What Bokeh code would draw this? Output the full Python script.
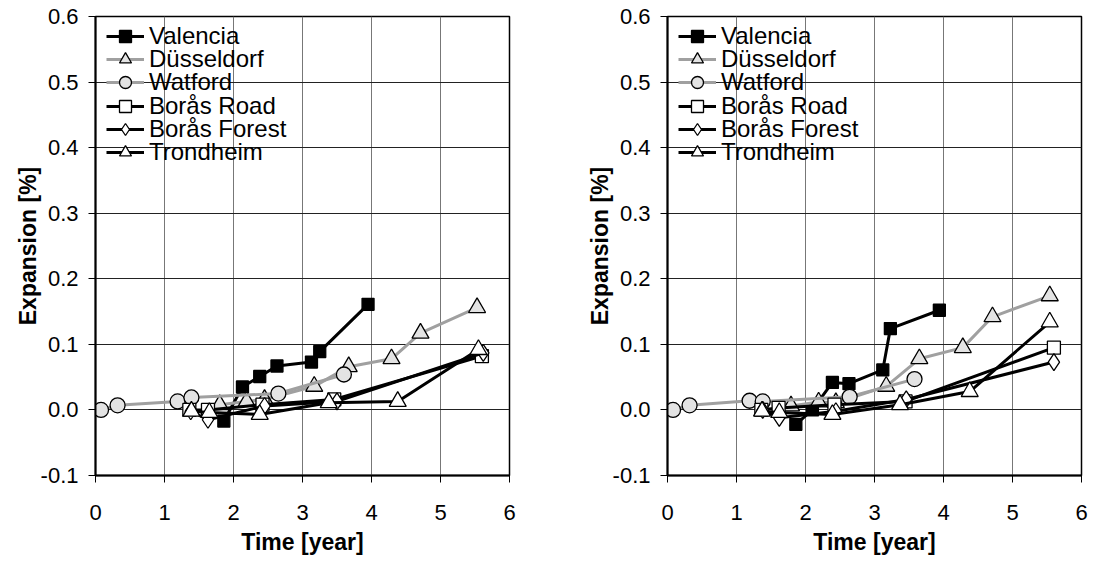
from bokeh.plotting import figure
from bokeh.layouts import row
from bokeh.models import FixedTicker, NumeralTickFormatter, Range1d, Legend, LegendItem
from bokeh.embed import file_html
from bokeh.resources import INLINE

# ---------------- data ----------------
series_names = ["Valencia", "Düsseldorf", "Watford", "Borås Road", "Borås Forest", "Trondheim"]

# left panel
L_valencia_t = [1.86, 2.13, 2.38, 2.63, 3.13, 3.25, 3.95]
L_valencia_e = [-0.017, 0.035, 0.051, 0.067, 0.073, 0.089, 0.161]
L_dusseldorf_t = [1.80, 2.19, 2.45, 3.17, 3.67, 4.29, 4.71, 5.53]
L_dusseldorf_e = [0.008, 0.013, 0.016, 0.036, 0.066, 0.078, 0.117, 0.156]
L_watford_t = [0.08, 0.32, 1.19, 1.39, 2.65, 3.60]
L_watford_e = [0.000, 0.007, 0.013, 0.019, 0.025, 0.054]
L_borasroad_t = [1.36, 1.63, 2.42, 3.46, 5.60]
L_borasroad_e = [0.000, 0.000, 0.008, 0.016, 0.082]
L_borasforest_t = [1.38, 1.63, 2.45, 3.50, 5.62]
L_borasforest_e = [-0.002, -0.015, 0.006, 0.013, 0.087]
L_trondheim_t = [1.39, 1.65, 2.38, 3.38, 4.38, 5.55]
L_trondheim_e = [-0.002, -0.004, -0.007, 0.011, 0.013, 0.092]

# right panel
R_valencia_t = [1.86, 2.10, 2.39, 2.63, 3.12, 3.23, 3.94]
R_valencia_e = [-0.022, 0.000, 0.042, 0.040, 0.061, 0.124, 0.152]
R_dusseldorf_t = [1.79, 2.19, 2.44, 3.17, 3.65, 4.28, 4.71, 5.54]
R_dusseldorf_e = [0.006, 0.012, 0.011, 0.036, 0.078, 0.095, 0.142, 0.174]
R_watford_t = [0.08, 0.32, 1.19, 1.38, 2.64, 3.58]
R_watford_e = [0.000, 0.007, 0.014, 0.013, 0.020, 0.047]
R_borasroad_t = [1.36, 1.61, 2.42, 3.45, 5.60]
R_borasroad_e = [0.000, 0.003, 0.008, 0.013, 0.095]
R_borasforest_t = [1.38, 1.62, 2.44, 3.46, 5.60]
R_borasforest_e = [0.000, -0.012, -0.002, 0.016, 0.073]
R_trondheim_t = [1.37, 1.62, 2.39, 3.37, 4.38, 5.54]
R_trondheim_e = [-0.002, -0.004, -0.007, 0.008, 0.028, 0.134]

x_ticks = [0, 1, 2, 3, 4, 5, 6]
y_ticks = [-0.1, 0.0, 0.1, 0.2, 0.3, 0.4, 0.5, 0.6]

# ---------------- styles ----------------
GRAY_LINE = "#a0a0a0"
GRAY_FILL = "#e3e3e3"
styles = {
    "Valencia":     dict(marker="square",   size=12, fill="black"),
    "Düsseldorf":   dict(marker="triangle", size=17, fill=GRAY_FILL),
    "Watford":      dict(marker="circle",   size=15, fill=GRAY_FILL),
    "Borås Road":   dict(marker="square",   size=13, fill="white"),
    "Borås Forest": dict(marker="diamond",  size=17, fill="white"),
    "Trondheim":    dict(marker="triangle", size=17, fill="white"),
}

FONT = "Liberation Sans"
FRAME_W, FRAME_H = 414, 459


def make_panel(data, border_left, border_right):
    p = figure(output_backend="svg", toolbar_location=None,
               frame_width=FRAME_W, frame_height=FRAME_H,
               min_border_left=border_left, min_border_right=border_right,
               min_border_top=16, min_border_bottom=80,
               x_range=Range1d(0, 6), y_range=Range1d(-0.1, 0.6),
               background_fill_color="white", border_fill_color="white")
    p.outline_line_color = "black"
    p.outline_line_width = 1.5

    p.xgrid.ticker = FixedTicker(ticks=x_ticks)
    p.ygrid.ticker = FixedTicker(ticks=y_ticks)
    p.xgrid.grid_line_color = "#777777"
    p.ygrid.grid_line_color = "#222222"
    p.xgrid.grid_line_width = 1
    p.ygrid.grid_line_width = 1

    for ax in (p.xaxis[0], p.yaxis[0]):
        ax.axis_line_color = "black"
        ax.axis_line_width = 2
        ax.major_tick_line_color = "black"
        ax.major_tick_line_width = 1
        ax.major_tick_out = 7
        ax.major_tick_in = 0
        ax.minor_tick_line_color = None
        ax.major_label_text_font = FONT
        ax.major_label_text_font_size = "22px"
        ax.major_label_text_color = "black"
        ax.axis_label_text_font = FONT
        ax.axis_label_text_font_size = "23px"
        ax.axis_label_text_font_style = "bold"
        ax.axis_label_text_color = "black"

    p.xaxis.ticker = FixedTicker(ticks=x_ticks)
    p.yaxis.ticker = FixedTicker(ticks=y_ticks)
    p.yaxis.formatter = NumeralTickFormatter(format="0.0")
    p.xaxis.axis_label = "Time [year]"
    p.yaxis.axis_label = "Expansion [%]"
    p.xaxis.major_label_standoff = 22
    p.yaxis.major_label_standoff = 10
    p.xaxis.axis_label_standoff = 6
    p.yaxis.axis_label_standoff = -3

    renderers = []
    for name, (t, e) in zip(series_names, data):
        st = styles[name]
        line_col = GRAY_LINE if name in ("Düsseldorf", "Watford") else "black"
        l = p.line(t, e, line_color=line_col, line_width=3)
        s = p.scatter(t, e, marker=st["marker"], size=st["size"],
                      fill_color=st["fill"], line_color="black", line_width=1.3)
        renderers.append((name, l, s))

    # one small legend per entry, stacked at a fixed pitch
    row_pitch = 23.2
    for i, (name, l, s) in enumerate(renderers):
        lg = Legend(items=[LegendItem(label=name, renderers=[l, s])],
                    location=(11, 424 - row_pitch * i))
        lg.border_line_color = None
        lg.background_fill_alpha = 0
        lg.label_text_font = FONT
        lg.label_text_font_size = "24px"
        lg.label_text_color = "black"
        lg.label_text_baseline = "middle"
        lg.glyph_width = 38
        lg.glyph_height = 30
        lg.label_height = 20
        lg.label_standoff = 5
        lg.spacing = 0
        lg.padding = 0
        lg.margin = 0
        p.add_layout(lg, "center")
    return p


left_data = [(L_valencia_t, L_valencia_e), (L_dusseldorf_t, L_dusseldorf_e),
             (L_watford_t, L_watford_e), (L_borasroad_t, L_borasroad_e),
             (L_borasforest_t, L_borasforest_e), (L_trondheim_t, L_trondheim_e)]
right_data = [(R_valencia_t, R_valencia_e), (R_dusseldorf_t, R_dusseldorf_e),
              (R_watford_t, R_watford_e), (R_borasroad_t, R_borasroad_e),
              (R_borasforest_t, R_borasforest_e), (R_trondheim_t, R_trondheim_e)]

p1 = make_panel(left_data, 95, 70)
p2 = make_panel(right_data, 88, 8)

layout = row(p1, p2)
open("out.html", "w").write(file_html(layout, INLINE))
